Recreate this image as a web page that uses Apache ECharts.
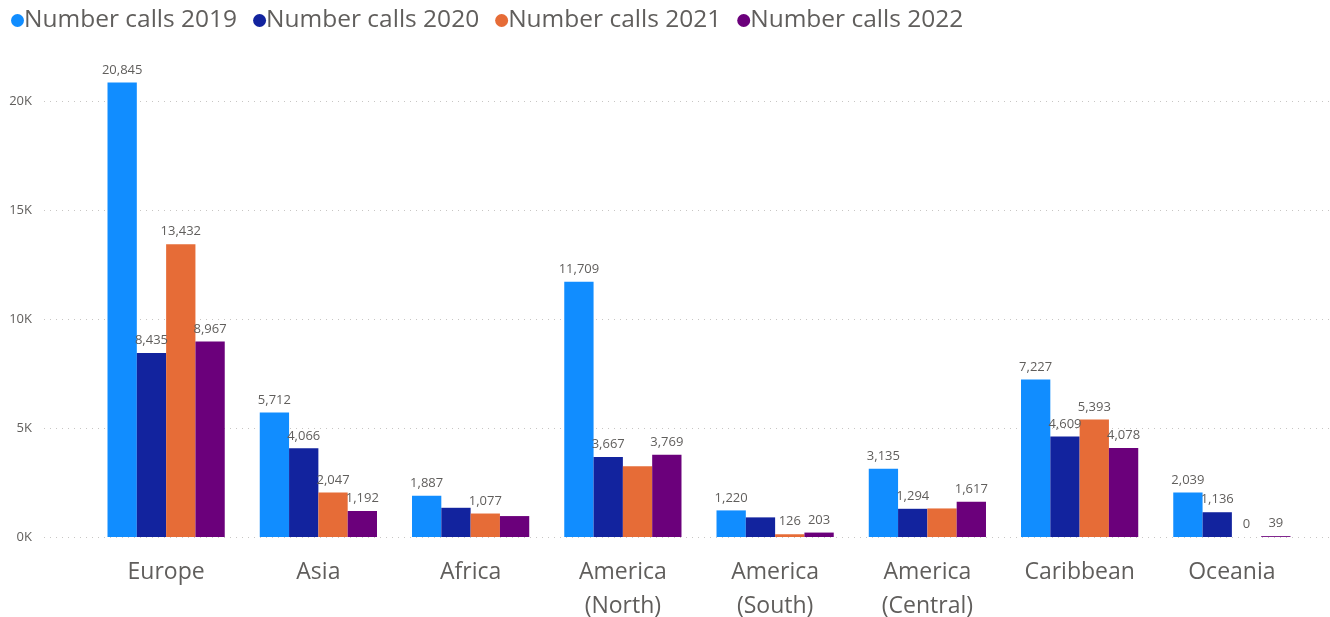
<!DOCTYPE html>
<html><head><meta charset="utf-8">
<script src="https://cdn.jsdelivr.net/npm/echarts@6/dist/echarts.min.js"></script>
<style>html,body{margin:0;padding:0;background:#fff}#c{width:1330px;height:617px}</style>
</head><body><div id="c"></div>
<script>
const categories = ['Europe','Asia','Africa','America\n(North)','America\n(South)','America\n(Central)','Caribbean','Oceania'];
const seriesNames = ['Number calls 2019','Number calls 2020','Number calls 2021','Number calls 2022'];
const calls2019 = [20845, 5712, 1887, 11709, 1220, 3135, 7227, 2039];
const calls2020 = [8435, 4066, 1340, 3667, 900, 1294, 4609, 1136];
const calls2021 = [13432, 2047, 1077, 3240, 126, 1310, 5393, 0];
const calls2022 = [8967, 1192, 960, 3769, 203, 1617, 4078, 39];
// whether the data label is visible in the reference (1 = shown)
const shown2019 = [1,1,1,1,1,1,1,1];
const shown2020 = [1,1,0,1,0,1,1,1];
const shown2021 = [1,1,1,0,1,0,1,1];
const shown2022 = [1,1,0,1,1,1,1,1];
const yTicks = [0, 5000, 10000, 15000, 20000];

const colors = ['#118DFF','#12239E','#E66C37','#6B007B'];
const font = '"Segoe UI","Open Sans",sans-serif';
const allVals = [calls2019, calls2020, calls2021, calls2022];
const allShown = [shown2019, shown2020, shown2021, shown2022];

const chart = echarts.init(document.getElementById('c'));
chart.setOption({
  animation: false,
  color: colors,
  legend: {
    left: 6, top: 3, itemGap: 16, itemWidth: 13, itemHeight: 13,
    icon: 'circle',
    textStyle: { fontFamily: font, fontSize: 24.5, color: '#605E5C', padding: [0,0,0,-5] },
    data: seriesNames
  },
  grid: [
    { left: 44, right: 0, top: 101, bottom: 80, outerBoundsMode: 'none' },
    { left: 90, right: 22, top: 101, bottom: 80, outerBoundsMode: 'none' }
  ],
  xAxis: [
    { gridIndex: 0, type: 'value', min: 0, max: 1, show: false },
    { gridIndex: 1, type: 'category', data: categories,
      axisLine: { show: false }, axisTick: { show: false },
      axisLabel: { fontFamily: font, fontSize: 23, color: '#605E5C', lineHeight: 34, margin: 18 } }
  ],
  yAxis: [
    { gridIndex: 0, type: 'value', min: yTicks[0], max: yTicks[yTicks.length-1], interval: yTicks[1]-yTicks[0],
      axisLine: { show: false }, axisTick: { show: false },
      axisLabel: { fontFamily: font, fontSize: 13, color: '#605E5C', margin: 12,
        formatter: v => (v/1000) + 'K' },
      splitLine: { lineStyle: { color: '#C8C6C4', type: [1,5], width: 1 } } },
    { gridIndex: 1, type: 'value', min: yTicks[0], max: yTicks[yTicks.length-1], show: false,
      splitLine: { show: false } }
  ],
  series: seriesNames.map((name, s) => ({
    name, type: 'bar', xAxisIndex: 1, yAxisIndex: 1, clip: false,
    barGap: '0%', barCategoryGap: '23%',
    itemStyle: { color: colors[s] },
    label: { show: true, position: 'top', distance: 6, fontFamily: font, fontSize: 13, color: '#605E5C',
      formatter: p => p.value.toLocaleString('en-US') },
    data: allVals[s].map((v, i) => ({ value: v, label: { show: !!allShown[s][i] } }))
  }))
});
</script></body></html>
